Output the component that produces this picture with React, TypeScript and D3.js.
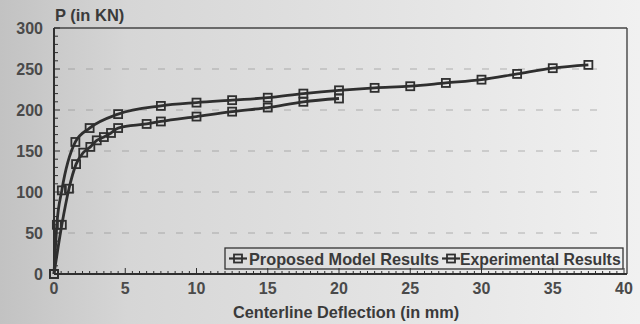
import React from 'react'
import * as d3 from 'd3'

const width = 640
const height = 324
const margin = { top: 28, right: 16, bottom: 50, left: 54 }

// upper curve, runs to the end
const proposedX = [0, 0.2, 0.55, 1.5, 2.5, 4.5, 7.5, 10, 12.5, 15, 17.5, 20, 22.5, 25, 27.5, 30, 32.5, 35, 37.5]
const proposedP = [0, 60, 102, 161, 178, 195, 205, 209, 212, 215, 220, 224, 227, 229, 233, 237, 244, 251, 255]
// lower curve, stops at 20 mm
const experimentalX = [0, 0.55, 1.05, 1.55, 2.05, 2.55, 3, 3.5, 4, 4.5, 6.5, 7.5, 10, 12.5, 15, 17.5, 20]
const experimentalP = [0, 60, 104, 134, 148, 155, 163, 167, 172, 178, 183, 186, 192, 198, 203, 210, 214]

const xTicks = [0, 5, 10, 15, 20, 25, 30, 35, 40]
const yTicks = [0, 50, 100, 150, 200, 250, 300]
const gridValues = [50, 100, 150, 200, 250]
const legendLabels = ['Proposed Model Results', 'Experimental Results']

const font = 'Arial, "Liberation Sans", sans-serif'
const ink = '#2f2f2f'

export default function App() {
  const x = d3.scaleLinear().domain([0, 40]).range([margin.left, 624])
  const y = d3.scaleLinear().domain([0, 300]).range([height - margin.bottom, margin.top])

  const line = d3.line<[number, number]>()
    .x(d => x(d[0]))
    .y(d => y(d[1]))
    .curve(d3.curveMonotoneX)

  const proposed: [number, number][] = proposedX.map((v, i) => [v, proposedP[i]])
  const experimental: [number, number][] = experimentalX.map((v, i) => [v, experimentalP[i]])

  const minorY = d3.range(0, 301, 10)
  const minorX = d3.range(0, 40.01, 0.5)
  const x0 = x(0)
  const yb = y(0)
  const frameRight = 627

  const marker = (d: [number, number], k: string) => (
    <rect key={k} x={x(d[0]) - 4} y={y(d[1]) - 4} width={8} height={8}
      fill="none" stroke={ink} strokeWidth={1.8} />
  )

  const legendSymbol = (cx: number, cy: number) => (
    <g>
      <line x1={cx - 9} x2={cx + 9} y1={cy} y2={cy} stroke={ink} strokeWidth={2.2} />
      <rect x={cx - 4} y={cy - 4} width={8} height={8} fill="none" stroke={ink} strokeWidth={1.8} />
    </g>
  )

  return (
    <svg width={width} height={height} style={{ position: 'absolute', left: 0, top: 0 }} fontFamily={font}>
      <defs>
        <linearGradient id="bg" x1="0" x2="1" y1="0" y2="0">
          <stop offset="0%" stopColor="#c2c2c2" />
          <stop offset="20%" stopColor="#d6d6d6" />
          <stop offset="60%" stopColor="#e3e3e3" />
          <stop offset="100%" stopColor="#f1f1f1" />
        </linearGradient>
      </defs>
      <rect width={width} height={height} fill="url(#bg)" />

      {/* grid */}
      {gridValues.map(v => (
        <line key={v} x1={x0 + 14} x2={frameRight - 20} y1={y(v)} y2={y(v)}
          stroke="#8a8a8a" strokeWidth={1} strokeDasharray="7,11" opacity={0.6} />
      ))}

      {/* frame */}
      <line x1={x0} x2={frameRight} y1={margin.top} y2={margin.top} stroke="#444" strokeWidth={1.4} />
      <line x1={frameRight} x2={frameRight} y1={margin.top} y2={yb} stroke="#444" strokeWidth={1.4} />
      <line x1={x0} x2={x0} y1={margin.top} y2={yb} stroke={ink} strokeWidth={2} />
      <line x1={x0} x2={frameRight} y1={yb} y2={yb} stroke={ink} strokeWidth={2} />

      {/* minor ticks */}
      {minorY.map(v => (
        <line key={'ty' + v} x1={x0} x2={x0 + (v % 50 === 0 ? 6 : 4)} y1={y(v)} y2={y(v)} stroke={ink} strokeWidth={1} />
      ))}
      {minorX.map(v => (
        <line key={'tx' + v} x1={x(v)} x2={x(v)} y1={yb} y2={yb - (v % 5 === 0 ? 6 : 3)} stroke={ink} strokeWidth={1} />
      ))}

      {/* tick labels */}
      {yTicks.map(v => (
        <text key={'ly' + v} x={43} y={y(v) + 5.5} textAnchor="end" fontSize={16} fontWeight="bold" fill="#4a4a4a">{v}</text>
      ))}
      {xTicks.map(v => (
        <text key={'lx' + v} x={x(v)} y={294} textAnchor="middle" fontSize={16} fontWeight="bold" fill="#4a4a4a">{v}</text>
      ))}

      <text x={55} y={21} fontSize={16.5} fontWeight="bold" fill="#3a3a3a">P (in KN)</text>
      <text x={346} y={318} textAnchor="middle" fontSize={16.3} fontWeight="bold" fill="#3a3a3a">Centerline Deflection (in mm)</text>

      {/* series */}
      <path d={line(experimental) ?? ''} fill="none" stroke={ink} strokeWidth={2.8} />
      <path d={line(proposed) ?? ''} fill="none" stroke={ink} strokeWidth={2.8} />
      {experimental.map((d, i) => marker(d, 'e' + i))}
      {proposed.map((d, i) => marker(d, 'p' + i))}

      {/* legend */}
      <rect x={225} y={248} width={398} height={21} fill="none" stroke="#333" strokeWidth={1.3} />
      {legendSymbol(238, 258.5)}
      <text x={249} y={264.5} fontSize={16.3} fontWeight="bold" fill="#3a3a3a">{legendLabels[0]}</text>
      {legendSymbol(451, 258.5)}
      <text x={460} y={264.5} fontSize={15.8} fontWeight="bold" fill="#3a3a3a">{legendLabels[1]}</text>
    </svg>
  )
}
